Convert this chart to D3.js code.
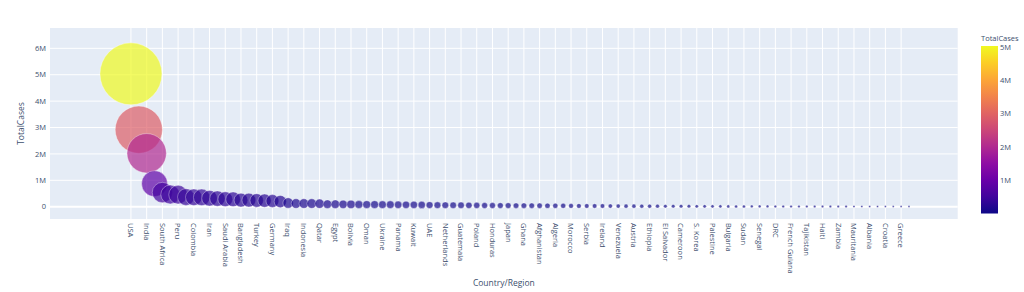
<!DOCTYPE html>
<html>
<head>
<meta charset="utf-8">
<script src="https://d3js.org/d3.v7.min.js"></script>
<style>
  body { margin: 0; background: #fff; }
  text { font-family: "Open Sans", Verdana, Arial, sans-serif; fill: #3d4f6e; }
</style>
</head>
<body>
<div id="chart"></div>
<script>
// countries sorted by total cases (top 100)
var countries = ["USA","Brazil","India","Russia","South Africa","Mexico","Peru","Chile","Colombia","Spain",
  "Iran","UK","Saudi Arabia","Pakistan","Bangladesh","Italy","Turkey","Argentina","Germany","France",
  "Iraq","Philippines","Indonesia","Canada","Qatar","Kazakhstan","Egypt","Ecuador","Bolivia","Sweden",
  "Oman","Israel","Ukraine","Dominican Republic","Panama","Belgium","Kuwait","Belarus","UAE","Romania",
  "Netherlands","Singapore","Guatemala","Portugal","Poland","Nigeria","Honduras","Bahrain","Japan","Armenia",
  "Ghana","Kyrgyzstan","Afghanistan","Switzerland","Algeria","Azerbaijan","Morocco","Uzbekistan","Serbia","Moldova",
  "Ireland","Kenya","Venezuela","Nepal","Austria","Costa Rica","Ethiopia","Australia","El Salvador","Czechia",
  "Cameroon","Ivory Coast","S. Korea","Denmark","Palestine","Bosnia and Herzegovina","Bulgaria","Madagascar","Sudan","North Macedonia",
  "Senegal","Norway","DRC","Malaysia","French Guiana","Gabon","Tajikistan","Guinea","Haiti","Finland",
  "Zambia","Luxembourg","Mauritania","Paraguay","Albania","Lebanon","Croatia","Djibouti","Greece","Libya"];

var totalCases = [5032179,2917562,2025409,871894,538184,462690,455409,366671,357710,354530,
  320117,308134,284226,281863,249651,249204,237265,228195,215210,195633,
  140603,119460,118753,118561,112092,95942,95006,90537,88000,81967,
  80713,80400,76808,76536,71418,71158,70045,68503,61845,57895,
  56982,54555,54339,52061,48789,45244,45098,42889,42263,39819,
  39642,38180,36896,35746,33626,32910,29644,28315,27147,26628,
  26372,24411,22299,21750,21696,21070,20900,19890,17448,17286,
  17179,16182,14519,14306,13398,12606,12056,11871,11780,10213,
  10100,9468,9070,9038,8127,7787,7665,7664,7544,7532,
  7164,7128,6208,6158,5889,5417,5143,5059,4855,4475];

var yTicks = [0, 1e6, 2e6, 3e6, 4e6, 5e6, 6e6];
var cbarTicks = [1e6, 2e6, 3e6, 4e6, 5e6];

var W = 1024, H = 292;
var plot = {left: 50, right: 957.7, top: 28, bottom: 219};

var svg = d3.select("#chart").append("svg")
  .attr("width", W).attr("height", H);

var x = d3.scaleLinear().domain([-10.3, 105.2]).range([plot.left, plot.right]);
var y = d3.scaleLinear().domain([-466000, 6770000]).range([plot.bottom, plot.top]);

var cmin = d3.min(totalCases), cmax = d3.max(totalCases);
var color = d3.scaleSequential(d3.interpolatePlasma).domain([cmin, cmax]);
var r = d3.scaleSqrt().domain([0, cmax]).range([0, 31]);

var fmtM = function(v) { return v === 0 ? "0" : (v / 1e6) + "M"; };

// plot background
svg.append("rect")
  .attr("x", plot.left).attr("y", plot.top)
  .attr("width", plot.right - plot.left).attr("height", plot.bottom - plot.top)
  .attr("fill", "#E5ECF6");

// grid lines
var labelIdx = d3.range(0, countries.length, 2);
svg.append("g").selectAll("line").data(labelIdx).enter().append("line")
  .attr("x1", function(i) { return x(i); }).attr("x2", function(i) { return x(i); })
  .attr("y1", plot.top).attr("y2", plot.bottom)
  .attr("stroke", "#fff").attr("stroke-width", 1);

svg.append("g").selectAll("line").data(yTicks).enter().append("line")
  .attr("x1", plot.left).attr("x2", plot.right)
  .attr("y1", function(d) { return y(d); }).attr("y2", function(d) { return y(d); })
  .attr("stroke", "#fff").attr("stroke-width", function(d) { return d === 0 ? 2 : 1; });

// bubbles
var clip = svg.append("clipPath").attr("id", "clip").append("rect")
  .attr("x", plot.left).attr("y", plot.top)
  .attr("width", plot.right - plot.left).attr("height", plot.bottom - plot.top);

svg.append("g").attr("clip-path", "url(#clip)")
  .selectAll("circle").data(totalCases).enter().append("circle")
  .attr("cx", function(d, i) { return x(i); })
  .attr("cy", function(d) { return y(d); })
  .attr("r", function(d) { return Math.max(r(d), 1); })
  .attr("fill", function(d) { return color(d); })
  .attr("fill-opacity", 0.7)
  .attr("stroke", "#fff").attr("stroke-opacity", 0.6).attr("stroke-width", 0.6);

// y tick labels
svg.append("g").selectAll("text").data(yTicks).enter().append("text")
  .attr("x", 46).attr("y", function(d) { return y(d); })
  .attr("dy", "0.35em").attr("text-anchor", "end")
  .style("font-size", "7.5px")
  .text(fmtM);

// x tick labels
svg.append("g").selectAll("text").data(labelIdx).enter().append("text")
  .attr("transform", function(i) { return "translate(" + x(i) + ",223) rotate(90)"; })
  .attr("dy", "0.35em").attr("text-anchor", "start")
  .style("font-size", "7.5px")
  .text(function(i) { return countries[i]; });

// axis titles
svg.append("text")
  .attr("transform", "translate(24," + ((plot.top + plot.bottom) / 2) + ") rotate(-90)")
  .attr("text-anchor", "middle")
  .style("font-size", "8.5px")
  .text("TotalCases");

svg.append("text")
  .attr("x", (plot.left + plot.right) / 2).attr("y", 286)
  .attr("text-anchor", "middle")
  .style("font-size", "8.5px")
  .text("Country/Region");

// colorbar
var cb = {x: 981, w: 17, top: 46, bottom: 213.5};
var cy = d3.scaleLinear().domain([cmin, cmax]).range([cb.bottom, cb.top]);

var grad = svg.append("defs").append("linearGradient")
  .attr("id", "cbgrad").attr("x1", 0).attr("y1", 1).attr("x2", 0).attr("y2", 0);
grad.selectAll("stop").data(d3.range(0, 1.0001, 0.1)).enter().append("stop")
  .attr("offset", function(t) { return t; })
  .attr("stop-color", function(t) { return d3.interpolatePlasma(t); });

svg.append("rect")
  .attr("x", cb.x).attr("y", cb.top)
  .attr("width", cb.w).attr("height", cb.bottom - cb.top)
  .attr("fill", "url(#cbgrad)");

svg.append("g").selectAll("text").data(cbarTicks).enter().append("text")
  .attr("x", cb.x + cb.w + 2).attr("y", function(d) { return cy(d); })
  .attr("dy", "0.35em")
  .style("font-size", "7.5px")
  .text(fmtM);

svg.append("text")
  .attr("x", cb.x).attr("y", 41)
  .style("font-size", "7.5px")
  .text("TotalCases");
</script>
</body>
</html>
